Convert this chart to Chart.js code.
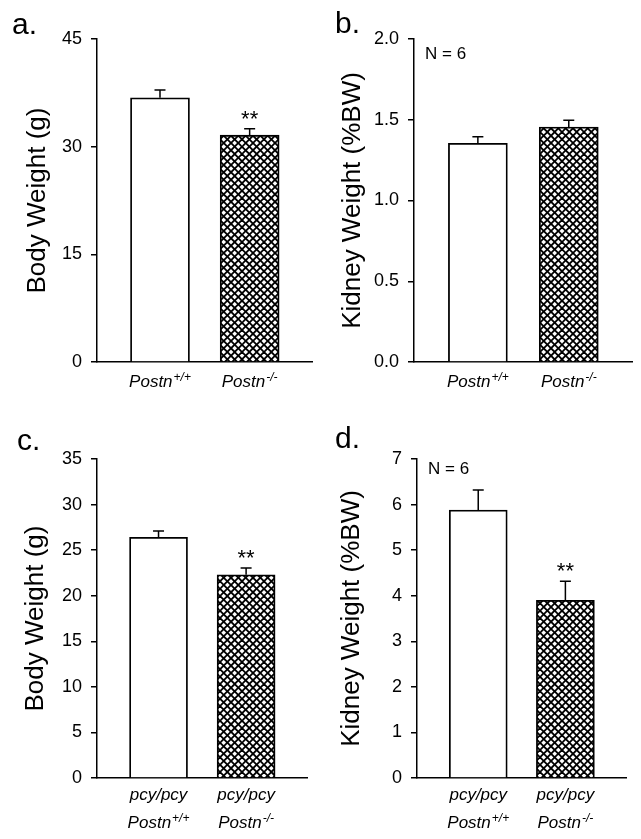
<!DOCTYPE html>
<html>
<head>
<meta charset="utf-8">
<script src="https://cdn.jsdelivr.net/npm/chart.js@4/dist/chart.umd.min.js"></script>
<style>
  html, body { margin: 0; padding: 0; background: #fff; }
  #wrap { position: relative; width: 641px; height: 839px; overflow: hidden; }
  canvas { position: absolute; }
</style>
</head>
<body>
<div id="wrap">
  <canvas id="pa" width="320" height="415" style="left:0;top:0"></canvas>
  <canvas id="pb" width="321" height="415" style="left:320px;top:0"></canvas>
  <canvas id="pc" width="320" height="419" style="left:0;top:420px"></canvas>
  <canvas id="pd" width="321" height="419" style="left:320px;top:420px"></canvas>
</div>
<script>
// groepen (genotypes) en hun plaats op de x-as (0..1)
const genoBase = ['Postn', 'Postn'];
const genoSup = ['+/+', '-/-'];
const pcyLine = ['pcy/pcy', 'pcy/pcy'];
const groupPos = [0.293, 0.71];

// a. body weight, wild type achtergrond
const bodyWeightA = [36.8, 31.6];
const bodyWeightAErr = [1.1, 0.9];
const sigA = ['', '**'];
// b. kidney weight (%BW)
const kidneyWeightB = [1.354, 1.455];
const kidneyWeightBErr = [0.04, 0.042];
const sigB = ['', ''];
// c. body weight, pcy/pcy
const bodyWeightC = [26.4, 22.3];
const bodyWeightCErr = [0.7, 0.75];
const sigC = ['', '**'];
// d. kidney weight (%BW), pcy/pcy
const kidneyWeightD = [5.88, 3.9];
const kidneyWeightDErr = [0.44, 0.42];
const sigD = ['', '**'];

const FONT = '"Liberation Sans", Arial, sans-serif';
Chart.defaults.font.family = FONT;
Chart.defaults.color = '#000';

// kruisarcering voor de Postn-/- staaf
function makeHatch() {
  const P = 22, step = P / 3;
  const c = document.createElement('canvas');
  c.width = P; c.height = P;
  const g = c.getContext('2d');
  g.fillStyle = '#fff';
  g.fillRect(0, 0, P, P);
  g.strokeStyle = '#000';
  g.lineWidth = 1.8;
  for (let k = -P; k <= 2 * P; k += step) {
    g.beginPath(); g.moveTo(k, 0); g.lineTo(k + P, P); g.stroke();
    g.beginPath(); g.moveTo(k, 0); g.lineTo(k - P, P); g.stroke();
  }
  return g.createPattern(c, 'repeat');
}
const hatch = makeHatch();

// foutbalken, sterretjes, N-tekst en x-labels met superscript
const extras = {
  id: 'extras',
  afterDatasetsDraw(chart, args, o) {
    const { ctx, scales: { x, y }, chartArea } = chart;
    ctx.save();
    ctx.strokeStyle = '#000';
    ctx.fillStyle = '#000';
    ctx.lineWidth = 1.5;
    o.values.forEach((v, i) => {
      const px = x.getPixelForValue(groupPos[i]);
      const top = y.getPixelForValue(v);
      const et = y.getPixelForValue(v + o.errors[i]);
      ctx.beginPath();
      ctx.moveTo(px, top); ctx.lineTo(px, et);
      ctx.moveTo(px - 5.5, et); ctx.lineTo(px + 5.5, et);
      ctx.stroke();
      if (o.sig[i]) {
        ctx.font = '22px ' + FONT;
        ctx.textAlign = 'center';
        ctx.textBaseline = 'alphabetic';
        ctx.fillText(o.sig[i], px, et - 3);
      }
      // x labels
      let base = chartArea.bottom + 25;
      ctx.textAlign = 'left';
      ctx.textBaseline = 'alphabetic';
      if (o.pcy) {
        ctx.font = 'italic 17px ' + FONT;
        const w = ctx.measureText(pcyLine[i]).width;
        ctx.fillText(pcyLine[i], px - w / 2, chartArea.bottom + 22);
        base = chartArea.bottom + 50;
      }
      ctx.font = 'italic 17px ' + FONT;
      const bw = ctx.measureText(genoBase[i]).width;
      ctx.font = 'italic 12px ' + FONT;
      const sw = ctx.measureText(genoSup[i]).width;
      const sx = px - (bw + sw + 1) / 2;
      ctx.font = 'italic 17px ' + FONT;
      ctx.fillText(genoBase[i], sx, base);
      ctx.font = 'italic 12px ' + FONT;
      ctx.fillText(genoSup[i], sx + bw + 1, base - 6);
    });
    if (o.n) {
      ctx.font = '17px ' + FONT;
      ctx.textAlign = 'left';
      ctx.textBaseline = 'middle';
      ctx.fillText(o.n, chartArea.left + 11, chartArea.top + o.nDy);
    }
    ctx.restore();
  }
};

function makePanel(id, p) {
  new Chart(document.getElementById(id), {
    type: 'bar',
    data: {
      datasets: [{
        data: p.values.map((v, i) => ({ x: groupPos[i], y: v })),
        backgroundColor: ['#fff', hatch],
        borderColor: '#000',
        borderWidth: 1.8,
        borderSkipped: 'start',
        barThickness: p.barW
      }]
    },
    options: {
      responsive: false,
      animation: false,
      events: [],
      layout: { padding: { left: p.padLeft, right: p.padRight, top: 0, bottom: 0 } },
      plugins: {
        legend: { display: false },
        tooltip: { enabled: false },
        title: {
          display: true, text: p.letter, align: 'start', color: '#000',
          font: { size: 30, weight: 'normal', lineHeight: 0.9 },
          padding: { top: p.letterTop, bottom: 12 - p.letterTop }
        },
        extras: { values: p.values, errors: p.errors, sig: p.sig, n: p.n, nDy: p.nDy, pcy: p.pcy }
      },
      scales: {
        x: {
          type: 'linear', min: 0, max: 1, offset: false,
          ticks: { display: false },
          grid: { display: false },
          border: { color: '#000', width: 1.5 },
          afterFit: s => { s.height = p.xAxisH; }
        },
        y: {
          min: 0, max: p.max,
          ticks: { stepSize: p.step, padding: 9, color: '#000', font: { size: 18 }, callback: p.fmt },
          grid: { drawOnChartArea: false, color: '#000', lineWidth: 1.5, tickLength: 6 },
          border: { color: '#000', width: 1.5 },
          title: { display: true, text: p.yTitle, color: '#000', font: { size: 26 }, padding: { top: p.yTitlePad, bottom: 0 } },
          afterFit: s => { s.width = p.yAxisW; }
        }
      }
    },
    plugins: [extras]
  });
}

const fmt0 = v => String(v);
const fmt1 = v => v.toFixed(1);

makePanel('pa', { letter: 'a.', values: bodyWeightA, errors: bodyWeightAErr, sig: sigA, max: 45, step: 15, fmt: fmt0,
  yTitle: 'Body Weight (g)', padLeft: 12, yAxisW: 85, padRight: 8, xAxisH: 53, letterTop: 12, yTitlePad: 10, barW: 59 });
makePanel('pb', { letter: 'b.', values: kidneyWeightB, errors: kidneyWeightBErr, sig: sigB, max: 2, step: 0.5, fmt: fmt1,
  yTitle: 'Kidney Weight (%BW)', padLeft: 15, yAxisW: 79, padRight: 9, xAxisH: 53, letterTop: 11, yTitlePad: 2, barW: 59,
  n: 'N = 6', nDy: 15 });
makePanel('pc', { letter: 'c.', values: bodyWeightC, errors: bodyWeightCErr, sig: sigC, max: 35, step: 5, fmt: fmt0,
  yTitle: 'Body Weight (g)', padLeft: 17, yAxisW: 80, padRight: 13, xAxisH: 61, letterTop: 8, yTitlePad: 3, barW: 58, pcy: true });
makePanel('pd', { letter: 'd.', values: kidneyWeightD, errors: kidneyWeightDErr, sig: sigD, max: 7, step: 1, fmt: fmt0,
  yTitle: 'Kidney Weight (%BW)', padLeft: 15, yAxisW: 82, padRight: 15, xAxisH: 61, letterTop: 6, yTitlePad: 1, barW: 58,
  pcy: true, n: 'N = 6', nDy: 10 });
</script>
</body>
</html>
